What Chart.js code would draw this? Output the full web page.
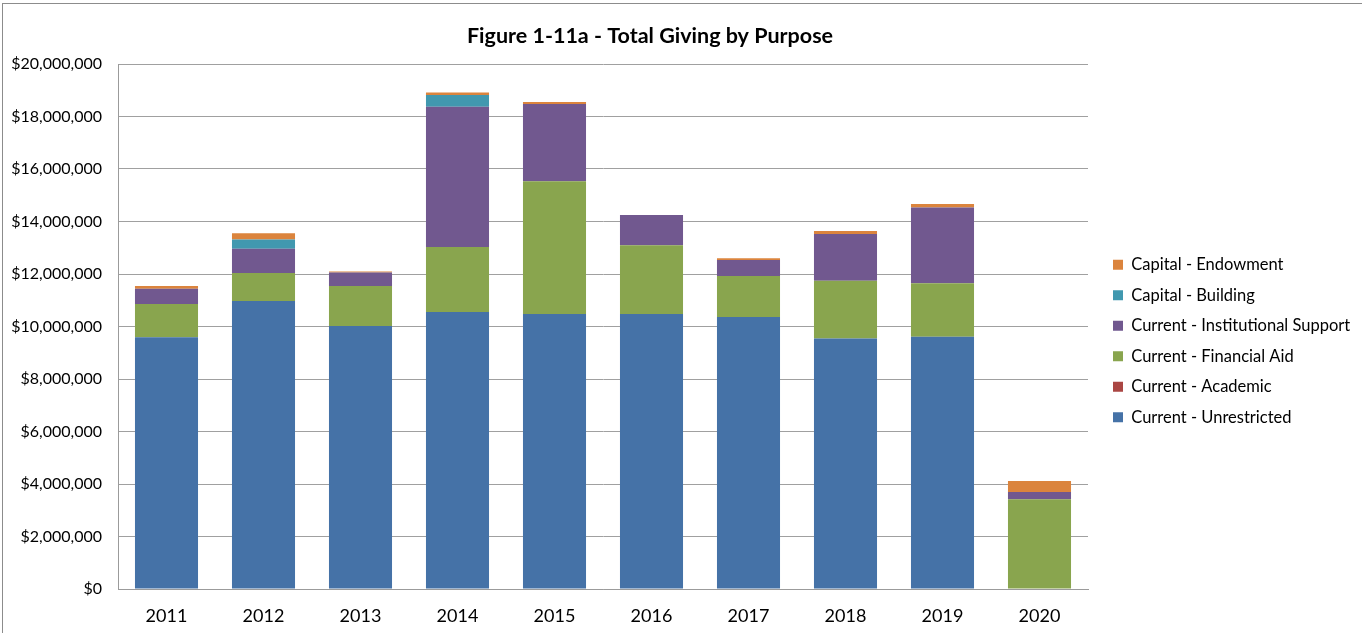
<!DOCTYPE html>
<html>
<head>
<meta charset="utf-8">
<script src="https://cdn.jsdelivr.net/npm/chart.js@4.4.1/dist/chart.umd.min.js"></script>
<style>
    html, body { margin: 0; padding: 0; background: #fff; overflow: hidden; }
    #frame {
        position: absolute; left: 2px; top: 3px; width: 1400px; height: 700px;
        border-left: 1px solid #8c8c8c; border-top: 1px solid #8c8c8c;
    }
    #wrap { position: absolute; left: 0; top: 0; width: 1362px; height: 633px; }
</style>
</head>
<body>
<div id="frame"></div>
<div id="wrap"><canvas id="givingChart"></canvas></div>
<script>
const years = ['2011', '2012', '2013', '2014', '2015', '2016', '2017', '2018', '2019', '2020'];

// values in dollars
const unrestricted = [9590000, 10970000, 10020000, 10550000, 10480000, 10480000, 10360000, 9540000, 9610000, 0];
const academic = [0, 0, 0, 0, 0, 0, 0, 0, 0, 0];
const financialAid = [1270000, 1070000, 1520000, 2480000, 5050000, 2620000, 1560000, 2200000, 2040000, 3420000];
const institutional = [580000, 920000, 520000, 5340000, 2950000, 1150000, 610000, 1780000, 2880000, 280000];
const building = [0, 350000, 0, 450000, 0, 0, 0, 0, 0, 0];
const endowment = [100000, 240000, 40000, 90000, 70000, 0, 70000, 120000, 140000, 410000];

const chartFont = 'Lato, "Open Sans", sans-serif';
const legendSize = 16.5;
const legendPadding = 14;
const legendShift = 11;

const titlePlugin = {
    id: 'figureTitle',
    afterDraw(chart) {
        const c = chart.ctx;
        c.save();
        c.font = 'bold 21.5px ' + chartFont;
        c.fillStyle = '#000';
        c.textAlign = 'center';
        c.textBaseline = 'middle';
        c.fillText('Figure 1-11a - Total Giving by Purpose', 650, 36);
        c.restore();
    }
};

// push the legend a little away from the plot, like Excel does
const legendNudge = {
    id: 'legendNudge',
    afterLayout(chart) {
        const lg = chart.legend;
        lg.left += legendShift;
        lg.right += legendShift;
        lg.top += 2;
        lg.bottom += 2;
    }
};

function series(label, data, color) {
    return {
        label: label,
        data: data,
        backgroundColor: color,
        borderWidth: 0,
        categoryPercentage: 0.65,
        barPercentage: 1
    };
}

const canvas = document.getElementById('givingChart');
const ctx = canvas.getContext('2d');
ctx.font = legendSize + 'px ' + chartFont;
const longest = ctx.measureText('Current - Institutional Support').width;
const legendWidth = 2 * legendPadding + 10 + legendSize / 2 + longest;
const rightPad = Math.max(0, 1362 - 1088 - legendWidth + 4);

new Chart(ctx, {
    type: 'bar',
    data: {
        labels: years,
        datasets: [
            series('Current - Unrestricted', unrestricted, '#4572A7'),
            series('Current - Academic', academic, '#AA4643'),
            series('Current - Financial Aid', financialAid, '#89A54E'),
            series('Current - Institutional Support', institutional, '#71588F'),
            series('Capital - Building', building, '#4198AF'),
            series('Capital - Endowment', endowment, '#DB843D')
        ]
    },
    options: {
        responsive: true,
        maintainAspectRatio: false,
        animation: false,
        layout: { padding: { top: 45, bottom: 0, left: 0, right: rightPad } },
        plugins: {
            title: { display: false },
            tooltip: { enabled: false },
            legend: {
                position: 'right',
                reverse: true,
                labels: {
                    boxWidth: 10,
                    boxHeight: 10,
                    padding: legendPadding,
                    color: '#000',
                    font: { family: chartFont, size: legendSize }
                }
            }
        },
        scales: {
            x: {
                stacked: true,
                grid: { display: false, drawTicks: false },
                border: { display: true, color: '#9b9b9b' },
                ticks: { color: '#000', padding: 16, font: { family: chartFont, size: 18 } },
                afterFit: (scale) => { scale.height = 44; }
            },
            y: {
                stacked: true,
                min: 0,
                max: 20000000,
                grid: { color: '#a0a0a0', drawTicks: false },
                border: { display: true, color: '#9b9b9b' },
                ticks: {
                    stepSize: 2000000,
                    padding: 16,
                    color: '#000',
                    font: { family: chartFont, size: 16 },
                    callback: (v) => '$' + v.toLocaleString('en-US')
                },
                afterFit: (scale) => { scale.width = 118; }
            },
            titleRoom: {
                position: 'top',
                display: true,
                grid: { display: false },
                border: { display: false },
                ticks: { display: false },
                afterFit: (scale) => { scale.height = 19; }
            }
        }
    },
    plugins: [titlePlugin, legendNudge]
});
</script>
</body>
</html>
